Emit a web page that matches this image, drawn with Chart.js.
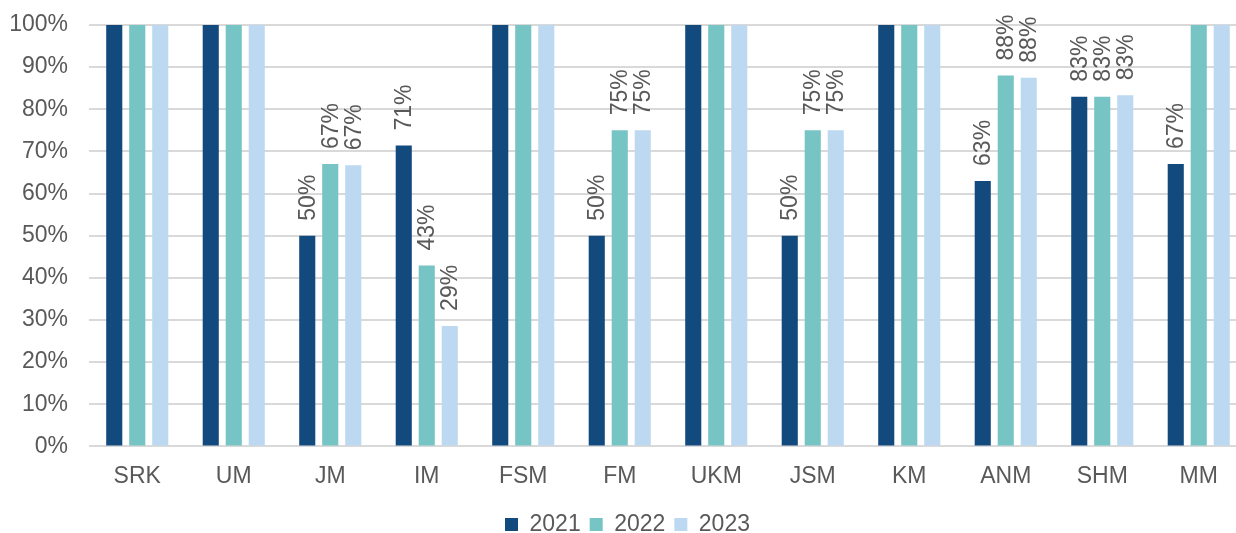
<!DOCTYPE html>
<html>
<head>
<meta charset="utf-8">
<script src="https://cdn.jsdelivr.net/npm/chart.js@4.4.1/dist/chart.umd.min.js"></script>
<style>
  html, body { margin: 0; padding: 0; background: #fff; overflow: hidden; }
  #wrap { width: 1256px; height: 546px; }
</style>
</head>
<body>
<div id="wrap"><canvas id="myChart"></canvas></div>
<script>
const categories = ['SRK', 'UM', 'JM', 'IM', 'FSM', 'FM', 'UKM', 'JSM', 'KM', 'ANM', 'SHM', 'MM'];
const values2021 = [1, 1, 0.5, 0.714, 1, 0.5, 1, 0.5, 1, 0.63, 0.83, 0.67];
const values2022 = [1, 1, 0.67, 0.429, 1, 0.75, 1, 0.75, 1, 0.88, 0.83, 1];
const values2023 = [1, 1, 0.667, 0.286, 1, 0.75, 1, 0.75, 1, 0.875, 0.833, 1];
const yTicks = [0, 0.1, 0.2, 0.3, 0.4, 0.5, 0.6, 0.7, 0.8, 0.9, 1];

const textColor = '#595959';
const fontFamily = '"Liberation Sans", Arial, sans-serif';

// rotated value labels above bars (skip the 100% ones)
const barLabels = {
  id: 'barLabels',
  afterDatasetsDraw(chart) {
    const c = chart.ctx;
    c.save();
    c.font = '23px ' + fontFamily;
    c.fillStyle = textColor;
    c.textAlign = 'left';
    c.textBaseline = 'middle';
    chart.data.datasets.forEach((ds, i) => {
      chart.getDatasetMeta(i).data.forEach((bar, j) => {
        const v = ds.data[j];
        if (v >= 1) return;
        c.save();
        c.translate(bar.x, bar.y - 15);
        c.rotate(-Math.PI / 2);
        c.fillText(Math.round(v * 100) + '%', 0, 1);
        c.restore();
      });
    });
    c.restore();
  }
};

const ctx = document.getElementById('myChart');

new Chart(ctx, {
  type: 'bar',
  data: {
    labels: categories,
    datasets: [
      { label: '2021', data: values2021, backgroundColor: '#134a7e' },
      { label: '2022', data: values2022, backgroundColor: '#76c4c3' },
      { label: '2023', data: values2023, backgroundColor: '#bdd9f1' }
    ]
  },
  options: {
    responsive: true,
    maintainAspectRatio: false,
    animation: false,
    layout: { padding: { top: 25, left: 8, right: 9, bottom: 0 } },
    datasets: {
      bar: { categoryPercentage: 0.715, barPercentage: 0.7 }
    },
    scales: {
      x: {
        grid: { display: false },
        border: { display: false },
        ticks: { color: textColor, font: { size: 23, family: fontFamily }, padding: 8, maxRotation: 0 }
      },
      y: {
        min: 0,
        max: 1,
        afterBuildTicks(axis) { axis.ticks = yTicks.map(v => ({ value: v })); },
        afterFit(axis) {
          axis.width = 81;
          axis.paddingTop = 0;
          axis.paddingBottom = 0;
        },
        grid: { color: '#d9d9d9', lineWidth: 2, drawTicks: false },
        border: { display: false },
        ticks: {
          color: textColor,
          font: { size: 23, family: fontFamily },
          padding: 21,
          callback: v => Math.round(v * 100) + '%'
        }
      }
    },
    plugins: {
      legend: {
        position: 'bottom',
        title: { display: true, text: ' ', font: { size: 5 }, padding: 0 },
        labels: {
          color: textColor,
          font: { size: 23, family: fontFamily },
          boxWidth: 13,
          boxHeight: 13,
          padding: 9
        }
      },
      tooltip: { enabled: false }
    }
  },
  plugins: [barLabels]
});
</script>
</body>
</html>
